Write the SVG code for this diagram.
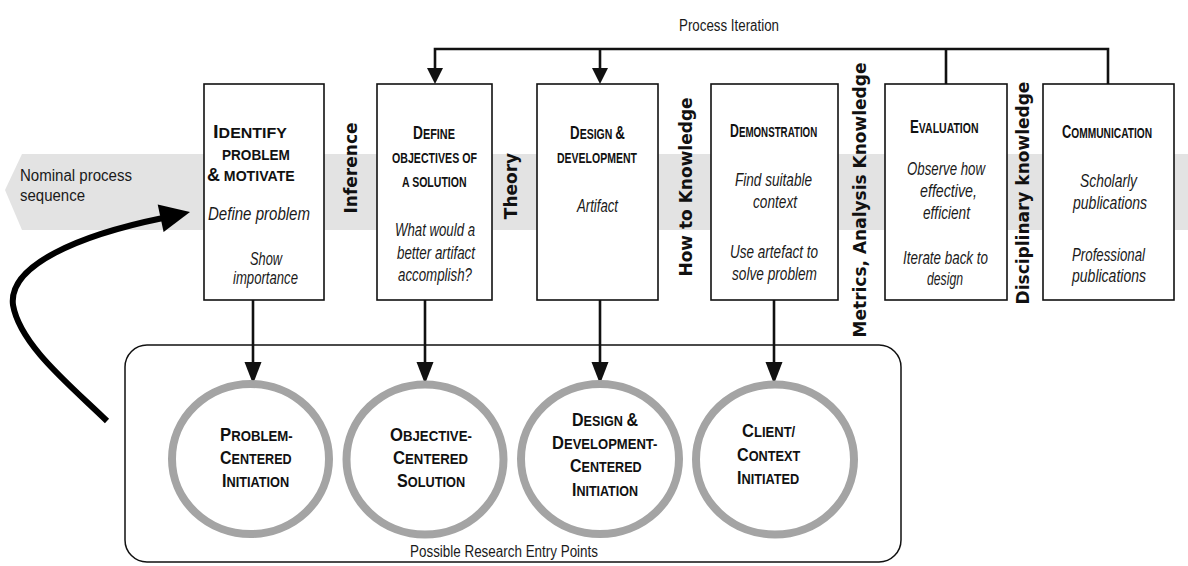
<svg xmlns="http://www.w3.org/2000/svg" width="1188" height="566" viewBox="0 0 1188 566">
  <style>
    .box { fill: #fff; stroke: #111; stroke-width: 1.6; }
    .ring { fill: #fff; stroke: #a4a4a4; stroke-width: 8; }
    .wire { fill: none; stroke: #111; stroke-width: 2.6; }
    .head { fill: #111; }
    .sc { font-family: "Liberation Sans", Arial, sans-serif; font-weight: bold; fill: #111; font-size: 15px; }
    .sc .cap { font-size: 19px; }
    .it { font-family: "Liberation Sans", Arial, sans-serif; font-style: italic; fill: #1a1a1a; font-size: 18px; }
    .lbl { font-family: "Liberation Sans", Arial, sans-serif; fill: #1a1a1a; font-size: 16px; }
    .vert { font-family: "DejaVu Sans", Verdana, sans-serif; font-weight: bold; fill: #111; font-size: 17px; text-anchor: middle; }
  </style>

  <rect width="1188" height="566" fill="#fff"/>

  <!-- nominal process band -->
  <g id="band">
    <polygon points="22,154 1188,154 1188,230 22,230 5,190" fill="#e3e3e3"/>
    <text class="lbl" x="20" y="181" font-size="18" textLength="112" lengthAdjust="spacingAndGlyphs">Nominal process</text>
    <text class="lbl" x="20" y="201" font-size="18" textLength="65" lengthAdjust="spacingAndGlyphs">sequence</text>
  </g>

  <!-- entry points container -->
  <g id="entry-points">
    <rect x="125" y="345" width="776" height="217" rx="22" ry="22" fill="none" stroke="#111" stroke-width="1.5"/>
    <text class="lbl" x="410" y="557" textLength="188" lengthAdjust="spacingAndGlyphs">Possible Research Entry Points</text>
  </g>

  <!-- connectors -->
  <g id="connectors">
    <!-- process iteration loop -->
    <polyline class="wire" points="435,68 435,49 1108,49 1108,84"/>
    <line class="wire" x1="600" y1="49" x2="600" y2="68"/>
    <line class="wire" x1="946" y1="49" x2="946" y2="84"/>
    <polygon class="head" points="427,68 443,68 435,84"/>
    <polygon class="head" points="592,68 608,68 600,84"/>
    <text class="lbl" x="679" y="31" textLength="100" lengthAdjust="spacingAndGlyphs">Process Iteration</text>
    <!-- activity to entry point -->
    <line class="wire" x1="253" y1="300" x2="253" y2="362"/>
    <line class="wire" x1="425" y1="300" x2="425" y2="362"/>
    <line class="wire" x1="600" y1="300" x2="600" y2="362"/>
    <line class="wire" x1="774" y1="300" x2="774" y2="362"/>
    <polygon class="head" points="244.5,362 261.5,362 253,384"/>
    <polygon class="head" points="416.5,362 433.5,362 425,384"/>
    <polygon class="head" points="591.5,362 608.5,362 600,384"/>
    <polygon class="head" points="765.5,362 782.5,362 774,384"/>
    <!-- curved entry arrow -->
    <path d="M107,421 C70,385 20,345 13,305 C8,265 80,235 163,218" fill="none" stroke="#000" stroke-width="6"/>
    <polygon points="190,212 157.7,204.6 163.6,232" fill="#000"/>
  </g>

  <!-- activities -->
  <g id="identify">
    <rect class="box" x="204" y="84" width="120" height="216"/>
    <text class="sc" transform="translate(213,138) scale(1.065,1)"><tspan class="cap">I</tspan>DENTIFY</text>
    <text class="sc" transform="translate(222,160) scale(0.907,1)">PROBLEM</text>
    <text class="sc" transform="translate(207,181) scale(0.943,1)"><tspan class="cap">&amp;</tspan> MOTIVATE</text>
    <text class="it" x="208" y="220" textLength="102" lengthAdjust="spacingAndGlyphs">Define problem</text>
    <text class="it" x="250" y="265" textLength="32" lengthAdjust="spacingAndGlyphs">Show</text>
    <text class="it" x="233" y="284" textLength="65" lengthAdjust="spacingAndGlyphs">importance</text>
  </g>

  <g id="objectives">
    <rect class="box" x="377" y="84" width="115" height="216"/>
    <text class="sc" transform="translate(413,139) scale(0.725,1)"><tspan class="cap">D</tspan>EFINE</text>
    <text class="sc" transform="translate(392,163) scale(0.708,1)">OBJECTIVES OF</text>
    <text class="sc" transform="translate(402,187) scale(0.703,1)">A SOLUTION</text>
    <text class="it" x="395" y="236" textLength="80" lengthAdjust="spacingAndGlyphs">What would a</text>
    <text class="it" x="397" y="259" textLength="78" lengthAdjust="spacingAndGlyphs">better artifact</text>
    <text class="it" x="398" y="281" textLength="74" lengthAdjust="spacingAndGlyphs">accomplish?</text>
  </g>

  <g id="design">
    <rect class="box" x="537" y="84" width="121" height="216"/>
    <text class="sc" transform="translate(570,139) scale(0.702,1)"><tspan class="cap">D</tspan>ESIGN <tspan class="cap">&amp;</tspan></text>
    <text class="sc" transform="translate(557,163) scale(0.70,1)">DEVELOPMENT</text>
    <text class="it" x="577" y="212" textLength="41" lengthAdjust="spacingAndGlyphs">Artifact</text>
  </g>

  <g id="demonstration">
    <rect class="box" x="711" y="84" width="127" height="216"/>
    <text class="sc" transform="translate(730,137) scale(0.65,1)"><tspan class="cap">D</tspan>EMONSTRATION</text>
    <text class="it" x="735" y="186" textLength="77" lengthAdjust="spacingAndGlyphs">Find suitable</text>
    <text class="it" x="753" y="208" textLength="44" lengthAdjust="spacingAndGlyphs">context</text>
    <text class="it" x="730" y="258" textLength="88" lengthAdjust="spacingAndGlyphs">Use artefact to</text>
    <text class="it" x="732" y="280" textLength="85" lengthAdjust="spacingAndGlyphs">solve problem</text>
  </g>

  <g id="evaluation">
    <rect class="box" x="885" y="84" width="122" height="216"/>
    <text class="sc" transform="translate(910,133) scale(0.70,1)"><tspan class="cap">E</tspan>VALUATION</text>
    <text class="it" x="907" y="175" textLength="78" lengthAdjust="spacingAndGlyphs">Observe how</text>
    <text class="it" x="920" y="197" textLength="57" lengthAdjust="spacingAndGlyphs">effective,</text>
    <text class="it" x="923" y="219" textLength="47" lengthAdjust="spacingAndGlyphs">efficient</text>
    <text class="it" x="903" y="264" textLength="85" lengthAdjust="spacingAndGlyphs">Iterate back to</text>
    <text class="it" x="927" y="285" textLength="36" lengthAdjust="spacingAndGlyphs">design</text>
  </g>

  <g id="communication">
    <rect class="box" x="1043" y="84" width="131" height="216"/>
    <text class="sc" transform="translate(1062,138) scale(0.68,1)"><tspan class="cap">C</tspan>OMMUNICATION</text>
    <text class="it" x="1080" y="187" textLength="57" lengthAdjust="spacingAndGlyphs">Scholarly</text>
    <text class="it" x="1073" y="209" textLength="74" lengthAdjust="spacingAndGlyphs">publications</text>
    <text class="it" x="1072" y="261" textLength="73" lengthAdjust="spacingAndGlyphs">Professional</text>
    <text class="it" x="1072" y="282" textLength="74" lengthAdjust="spacingAndGlyphs">publications</text>
  </g>

  <!-- knowledge flows between activities -->
  <g id="flows">
    <text class="vert" transform="translate(357,168) rotate(-90)">Inference</text>
    <text class="vert" transform="translate(517,186) rotate(-90)">Theory</text>
    <text class="vert" transform="translate(692,187) rotate(-90)">How to Knowledge</text>
    <text class="vert" transform="translate(866,200) rotate(-90)">Metrics, Analysis Knowledge</text>
    <text class="vert" transform="translate(1029,193) rotate(-90)">Disciplinary knowledge</text>
  </g>

  <!-- entry points -->
  <g id="problem-centered">
    <ellipse class="ring" cx="250.5" cy="459" rx="78.5" ry="75"/>
    <text class="sc" transform="translate(220,441) scale(0.88,1)"><tspan class="cap">P</tspan>ROBLEM-</text>
    <text class="sc" transform="translate(220,464) scale(0.84,1)"><tspan class="cap">C</tspan>ENTERED</text>
    <text class="sc" transform="translate(222,487) scale(0.85,1)"><tspan class="cap">I</tspan>NITIATION</text>
  </g>

  <g id="objective-centered">
    <ellipse class="ring" cx="425" cy="459.5" rx="78.5" ry="75"/>
    <text class="sc" transform="translate(390,441) scale(0.88,1)"><tspan class="cap">O</tspan>BJECTIVE-</text>
    <text class="sc" transform="translate(393,464) scale(0.88,1)"><tspan class="cap">C</tspan>ENTERED</text>
    <text class="sc" transform="translate(397,487) scale(0.85,1)"><tspan class="cap">S</tspan>OLUTION</text>
  </g>

  <g id="design-centered">
    <ellipse class="ring" cx="600" cy="459" rx="79" ry="75"/>
    <text class="sc" transform="translate(572,426) scale(0.843,1)"><tspan class="cap">D</tspan>ESIGN <tspan class="cap">&amp;</tspan></text>
    <text class="sc" transform="translate(552,449) scale(0.87,1)"><tspan class="cap">D</tspan>EVELOPMENT-</text>
    <text class="sc" transform="translate(570,472) scale(0.84,1)"><tspan class="cap">C</tspan>ENTERED</text>
    <text class="sc" transform="translate(572,496) scale(0.834,1)"><tspan class="cap">I</tspan>NITIATION</text>
  </g>

  <g id="client-initiated">
    <ellipse class="ring" cx="775" cy="459.5" rx="79" ry="75"/>
    <text class="sc" transform="translate(742,437) scale(0.87,1)"><tspan class="cap">C</tspan>LIENT/</text>
    <text class="sc" transform="translate(737,461) scale(0.85,1)"><tspan class="cap">C</tspan>ONTEXT</text>
    <text class="sc" transform="translate(737,484) scale(0.85,1)"><tspan class="cap">I</tspan>NITIATED</text>
  </g>
</svg>
